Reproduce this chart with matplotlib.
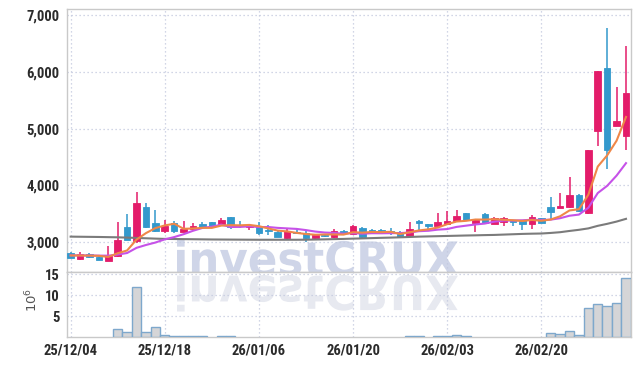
import matplotlib
matplotlib.use('Agg')
import matplotlib.pyplot as plt
import numpy as np
from matplotlib.textpath import TextPath
from matplotlib.patches import PathPatch
from matplotlib.font_manager import FontProperties
from matplotlib import font_manager as fm
from matplotlib.transforms import Affine2D

# ---------------- data ----------------
dates = ['2025-12-04', '2025-12-05', '2025-12-08', '2025-12-09', '2025-12-10', '2025-12-11',
         '2025-12-12', '2025-12-15', '2025-12-16', '2025-12-17', '2025-12-18', '2025-12-19',
         '2025-12-22', '2025-12-23', '2025-12-24', '2025-12-26', '2025-12-29', '2025-12-30',
         '2026-01-02', '2026-01-05', '2026-01-06', '2026-01-07', '2026-01-08', '2026-01-09',
         '2026-01-12', '2026-01-13', '2026-01-14', '2026-01-15', '2026-01-16', '2026-01-19',
         '2026-01-20', '2026-01-21', '2026-01-22', '2026-01-23', '2026-01-26', '2026-01-27',
         '2026-01-28', '2026-01-29', '2026-01-30', '2026-02-02', '2026-02-03', '2026-02-04',
         '2026-02-05', '2026-02-06', '2026-02-09', '2026-02-10', '2026-02-11', '2026-02-12',
         '2026-02-13', '2026-02-19', '2026-02-20', '2026-02-23', '2026-02-24', '2026-02-25',
         '2026-02-26', '2026-02-27', '2026-03-03', '2026-03-04', '2026-03-05', '2026-03-06']

opens = [2806, 2700, 2800, 2735, 2677, 2765, 3277, 3030, 3630, 3335,
         3206, 3335, 3188, 3236, 3317, 3353, 3312, 3441, 3300, 3265,
         3282, 3219, 3176, 3071, 3185, 3165, 3071, 3130, 3088, 3206,
         3148, 3247, 3224, 3219, 3200, 3189, 3106, 3383, 3324, 3282,
         3324, 3383, 3510, 3342, 3497, 3330, 3360, 3390, 3390, 3315,
         3420, 3630, 3612, 3617, 3841, 3519, 4959, 6060, 5048, 4871]
highs = [2824, 2830, 2820, 2755, 2942, 3353, 3500, 3882, 3688, 3560,
         3395, 3375, 3370, 3345, 3350, 3365, 3423, 3445, 3370, 3320,
         3365, 3300, 3200, 3253, 3240, 3200, 3140, 3150, 3240, 3220,
         3312, 3265, 3240, 3230, 3250, 3200, 3353, 3390, 3330, 3510,
         3545, 3560, 3520, 3410, 3509, 3440, 3450, 3400, 3400, 3480,
         3430, 3806, 3870, 4146, 3845, 4620, 6012, 6765, 5735, 6453]
lows = [2720, 2695, 2730, 2690, 2665, 2750, 3035, 2995, 3255, 3180,
        3160, 3165, 3180, 3205, 3245, 3250, 3300, 3228, 3250, 3225,
        3135, 3120, 3085, 3060, 3150, 3000, 3050, 3100, 3080, 3150,
        3140, 3070, 3170, 3180, 3120, 3080, 3100, 3190, 3200, 3270,
        3310, 3370, 3390, 3176, 3333, 3320, 3287, 3287, 3216, 3228,
        3340, 3418, 3600, 3610, 3540, 3500, 4695, 4296, 5040, 4619]
closes = [2725, 2795, 2735, 2695, 2765, 3048, 3042, 3688, 3265, 3206,
          3282, 3194, 3241, 3294, 3265, 3277, 3395, 3277, 3280, 3300,
          3170, 3194, 3088, 3206, 3170, 3071, 3130, 3115, 3206, 3159,
          3282, 3088, 3176, 3190, 3190, 3088, 3236, 3342, 3282, 3353,
          3383, 3470, 3400, 3400, 3345, 3420, 3420, 3360, 3330, 3440,
          3345, 3530, 3647, 3841, 3547, 4620, 6012, 4631, 5130, 5630]

ma5 = [2768, 2768, 2766, 2762, 2743, 2808, 2857, 3048, 3162, 3250,
       3297, 3327, 3238, 3243, 3255, 3254, 3294, 3302, 3299, 3306,
       3284, 3244, 3206, 3192, 3166, 3146, 3133, 3138, 3138, 3136,
       3178, 3170, 3182, 3179, 3185, 3146, 3176, 3209, 3228, 3260,
       3319, 3366, 3378, 3401, 3400, 3407, 3397, 3389, 3375, 3394,
       3379, 3401, 3458, 3561, 3582, 3837, 4333, 4530, 4788, 5205]
ma10 = [2770, 2770, 2768, 2766, 2765, 2784, 2812, 2903, 2953, 2996,
        3052, 3092, 3143, 3203, 3253, 3275, 3311, 3270, 3271, 3281,
        3269, 3269, 3254, 3245, 3236, 3215, 3189, 3172, 3165, 3151,
        3162, 3152, 3160, 3159, 3161, 3162, 3173, 3196, 3203, 3223,
        3233, 3271, 3293, 3314, 3330, 3363, 3382, 3383, 3388, 3397,
        3393, 3399, 3424, 3468, 3488, 3608, 3867, 3994, 4174, 4393]
ma_long = [3100, 3098, 3096, 3094, 3091, 3088, 3083, 3077, 3071, 3065,
           3060, 3058, 3056, 3054, 3052, 3050, 3049, 3048, 3047, 3046,
           3045, 3045, 3045, 3045, 3045, 3046, 3049, 3052, 3056, 3060,
           3065, 3069, 3074, 3079, 3083, 3088, 3094, 3100, 3104, 3108,
           3112, 3116, 3120, 3123, 3127, 3130, 3136, 3142, 3148, 3152,
           3155, 3165, 3178, 3200, 3220, 3245, 3290, 3325, 3365, 3413]

volume_m = [0, 0, 0, 0, 0, 1.9, 1.1, 11.9, 1.1, 2.4,
            0.5, 0.15, 0.15, 0.15, 0.15, 0, 0.15, 0.15, 0, 0,
            0, 0, 0, 0, 0, 0, 0, 0, 0, 0,
            0, 0, 0, 0, 0, 0, 0.15, 0.15, 0, 0.15,
            0.15, 0.45, 0.2, 0, 0, 0, 0, 0, 0, 0,
            0, 0.9, 0.6, 1.35, 0.4, 6.8, 7.8, 7.5, 8.0, 14.0]

tick_dates = ['2025-12-04', '2025-12-18', '2026-01-06', '2026-01-20', '2026-02-03', '2026-02-20']
price_ticks = [3000, 4000, 5000, 6000, 7000]
volume_ticks = [5, 10, 15]
watermark = 'investCRUX'

# ---------------- fonts ----------------
def _w(f):
    w = f.weight
    if isinstance(w, str):
        w = fm.weight_dict.get(w, 400)
    return w

def _s(f):
    s = f.stretch
    if isinstance(s, str):
        s = fm.stretch_dict.get(s, 500)
    return s

def pick_label_font(size):
    entries = fm.fontManager.ttflist
    prefs = ['Liberation Sans Narrow', 'Roboto Condensed', 'Open Sans Condensed',
             'Noto Sans Condensed', 'DejaVu Sans Condensed', 'Noto Sans Display Condensed']
    for p in prefs:
        c = [f for f in entries if f.name == p and 'italic' not in str(f.style).lower()
             and 'oblique' not in str(f.style).lower()]
        if c:
            best = min(c, key=lambda f: abs(_w(f) - 650))
            return FontProperties(fname=best.fname, size=size), True
    c = [f for f in entries if _s(f) < 500 and str(f.style) == 'normal'
         and not any(k in f.name for k in ('CJK', 'Mono', 'Serif'))]
    if c:
        best = min(c, key=lambda f: (abs(_s(f) - 300) / 100 + abs(_w(f) - 650) / 100))
        return FontProperties(fname=best.fname, size=size), True
    return FontProperties(family='DejaVu Sans', weight='bold', size=size * 0.82), False

label_fp, _narrow = pick_label_font(10.5)

# ---------------- style ----------------
UP = '#e31c6a'
DOWN = '#3399cc'
GRID = '#c3c9de'
SPINE = '#c9c9c9'

W, H = 639, 366
fig = plt.figure(figsize=(W / 100, H / 100), dpi=100)
fig.patch.set_facecolor('white')

def fx(px):
    return px / W

def fy(py):
    return (H - py) / H

left, right = 66.7, 630.7
main_top, split, vol_bot = 9.3, 271.7, 337.0
ax = fig.add_axes([fx(left), fy(split), fx(right) - fx(left), fy(main_top) - fy(split)])
axv = fig.add_axes([fx(left), fy(vol_bot), fx(right) - fx(left), fy(split) - fy(vol_bot)], sharex=ax)

x = np.arange(len(dates))
o = np.array(opens, float)
c = np.array(closes, float)
hi = np.array(highs, float)
lo = np.array(lows, float)
up = c >= o
colors = np.where(up, UP, DOWN)

# candles
ax.vlines(x, lo, hi, colors=colors, linewidth=1.1, zorder=3)
body_bottom = np.minimum(o, c)
body_h = np.maximum(np.abs(c - o), 12)
ax.bar(x, body_h, bottom=body_bottom, width=0.7, color=colors, edgecolor=colors,
       linewidth=0.6, zorder=4)

# moving averages
ax.plot(x, ma_long, color='#7b7b7b', lw=1.5, zorder=5)
ax.plot(x, ma10, color='#c652e8', lw=1.5, zorder=5)
ax.plot(x, ma5, color='#ef8748', lw=1.5, zorder=6)

# volume
vol = np.array(volume_m, float)
mask = vol > 0
axv.bar(x[mask], vol[mask], width=1.0, color='#d5d5d7', edgecolor='#7ea8cc',
        linewidth=1.0, zorder=3)

# axes limits & ticks
ax.set_xlim(-0.42, len(dates) - 0.5)
ax.set_ylim(2483, 7100)
axv.set_ylim(0, 15.55)

tick_pos = [dates.index(d) for d in tick_dates]
tick_lbl = [d[2:].replace('-', '/') for d in tick_dates]
axv.set_xticks(tick_pos)
axv.set_xticklabels(tick_lbl)
ax.tick_params(axis='x', labelbottom=False, length=0)
ax.set_yticks(price_ticks)
ax.set_yticklabels([f'{v:,}' for v in price_ticks])
axv.set_yticks(volume_ticks)
axv.set_yticklabels([str(v) for v in volume_ticks])

for a in (ax, axv):
    a.tick_params(axis='both', length=0, colors='#2b2b2b')
    a.tick_params(axis='y', pad=5)
    a.tick_params(axis='x', pad=5)
    for lbl in a.get_yticklabels() + a.get_xticklabels():
        lbl.set_fontproperties(label_fp)
    a.grid(True, linestyle=(0, (1, 2.2)), color=GRID, linewidth=0.9)
    for s in a.spines.values():
        s.set_color(SPINE)
        s.set_linewidth(1.0)
    a.set_facecolor('white')

fig.text(fx(32), fy(300), '10$^6$', rotation=90, ha='center', va='center',
         color='#555555', fontsize=9.5)

# watermark and its reflection
tp = TextPath((0, 0), watermark, size=1, prop=FontProperties(family='DejaVu Sans', weight='bold'))
bb = tp.get_extents()
wx0, wx1 = 177, 458
sx = (fx(wx1) - fx(wx0)) / bb.width
top_px, bot_px = 240, 276
sy = (fy(top_px) - fy(bot_px)) / bb.height
tr = Affine2D().translate(-bb.x0, -bb.y0).scale(sx, sy).translate(fx(wx0), fy(bot_px)) + fig.transFigure
wm = PathPatch(tp, facecolor='#cfd5e8', edgecolor='none', transform=tr, zorder=1)
ax.add_patch(wm)
rtop, rbot = 275, 311.5
sy2 = (fy(rtop) - fy(rbot)) / bb.height
tr2 = Affine2D().translate(-bb.x0, -bb.y0).scale(sx, -sy2).translate(fx(wx0), fy(rtop)) + fig.transFigure
wm2 = PathPatch(tp, facecolor='#e7e9f0', edgecolor='none', transform=tr2, zorder=1)
axv.add_patch(wm2)

fig.savefig('out.png', dpi=100)
